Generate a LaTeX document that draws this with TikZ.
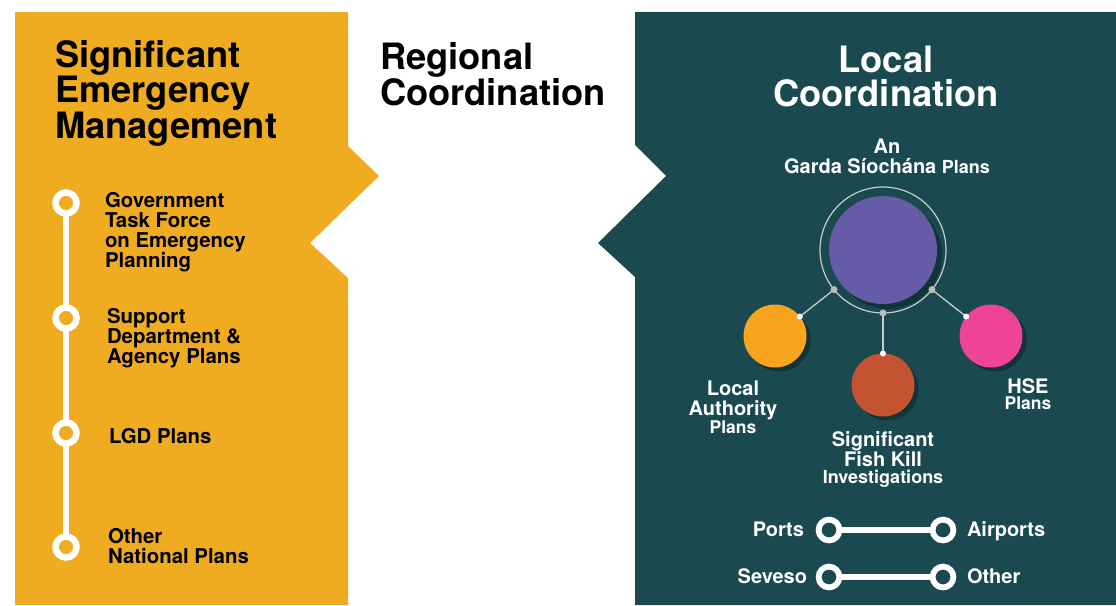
\documentclass[tikz,border=0pt]{standalone}
\usepackage{fontspec}
\setmainfont{TeX Gyre Heros}
\usetikzlibrary{shadows}

\definecolor{panelorange}{HTML}{F0AC20}
\definecolor{panelteal}{HTML}{1A4A50}
\definecolor{gpurple}{HTML}{665BA7}
\definecolor{corange}{HTML}{F7A51E}
\definecolor{cred}{HTML}{C45431}
\definecolor{cpink}{HTML}{EE4396}
\definecolor{ringgray}{HTML}{C8CCCC}
\definecolor{dotgray}{HTML}{B8BCBC}

\begin{document}
\begin{tikzpicture}[x=1pt,y=-1pt,
  every node/.style={inner sep=0pt, outer sep=0pt},
  bigtitle/.style={font=\bfseries\fontsize{36.3}{33.5}\selectfont, align=left, anchor=base west},
  lbl/.style={font=\bfseries\fontsize{20.4}{20}\selectfont, align=left, anchor=base west},
  wlbl/.style={font=\bfseries\fontsize{20}{20}\selectfont, text=white, align=center, anchor=base},
  tlring/.style={circle, draw=white, line width=6.5pt, fill=panelorange, minimum size=21pt},
  tlline/.style={draw=white, line width=6.5pt},
  brring/.style={circle, draw=white, line width=5.8pt, fill=panelteal, minimum size=20.8pt},
  bar/.style={draw=white, line width=6.5pt},
  plancircle/.style={circle, minimum size=63pt, drop shadow={shadow xshift=4pt, shadow yshift=-4pt, opacity=0.3, fill=black}},
  conn/.style={draw=ringgray, line width=1.3pt},
  gdot/.style={circle, fill=dotgray, minimum size=7pt},
  wdot/.style={circle, fill=white, minimum size=6pt}
]
\useasboundingbox (0,0) rectangle (1116,605);
\fill[white] (0,0) rectangle (1116,605);

% panels
\fill[panelorange] (15,12) -- (348,12) -- (348,146) -- (379,176) -- (310,243) -- (348,278) -- (348,605) -- (15,605) -- cycle;
\fill[panelteal] (635,12) -- (1116,12) -- (1116,605) -- (635,605) -- (635,277) -- (598,243) -- (666,176) -- (635,145) -- cycle;

% titles (anchor = baseline of last line)
\node[bigtitle] (sem) at (55,138) {Significant\\Emergency\\Management};
\node[bigtitle] (reg) at (380,105) {Regional\\Coordination};
\node[bigtitle, text=white, align=center, anchor=base] (loc) at (886,106) {Local\\Coordination};

% national timeline
\node[tlring] (t1) at (66,203) {};
\node[tlring] (t2) at (66,318) {};
\node[tlring] (t3) at (66,433) {};
\node[tlring] (t4) at (66,547) {};
\draw[tlline] (t1) -- (t2);
\draw[tlline] (t2) -- (t3);
\draw[tlline] (t3) -- (t4);

\node[lbl] (g1) at (105,267) {Government\\Task Force\\on Emergency\\Planning};
\node[lbl] (g2) at (107,363) {Support\\Department \&\\Agency Plans};
\node[lbl] (g3) at (109,443) {LGD Plans};
\node[lbl] (g4) at (108,563) {Other\\National Plans};

% local coordination
\node[wlbl] (gardatxt) at (887,173) {An\\Garda Síochána {\fontsize{18}{18}\selectfont Plans}};
\node[circle, draw=ringgray, line width=1.2pt, minimum size=126pt] (ring) at (883,250) {};
\node[circle, fill=gpurple, minimum size=108pt, drop shadow={shadow xshift=5pt, shadow yshift=-5pt, opacity=0.3, fill=black}] (garda) at (883,250) {};

\node[plancircle, fill=corange] (la) at (775,336) {};
\node[plancircle, fill=cred] (fk) at (883,385) {};
\node[plancircle, fill=cpink] (hse) at (991,336) {};

\draw[conn] (ring.219) -- (la.38);
\draw[conn] (ring.270) -- (fk.90);
\draw[conn] (ring.321) -- (hse.142);
\node[gdot] at (ring.219) {};
\node[gdot] at (ring.270) {};
\node[gdot] at (ring.321) {};
\node[wdot] at (la.38) {};
\node[wdot] at (fk.90) {};
\node[wdot] at (hse.142) {};

\node[wlbl] (latxt) at (733,433) {Local\\Authority\\[-2pt]{\fontsize{17.5}{18}\selectfont Plans}};
\node[wlbl] (fktxt) at (883,483) {Significant\\Fish Kill\\[-3pt]{\fontsize{18}{18}\selectfont Investigations}};
\node[wlbl] (hsetxt) at (1028,409) {HSE\\[-4pt]{\fontsize{17.5}{18}\selectfont Plans}};

% ports / seveso
\node[brring] (ports) at (829,530) {};
\node[brring] (airports) at (943,530) {};
\draw[bar] (ports) -- (airports);
\node[brring] (seveso) at (829,577) {};
\node[brring] (other) at (943,577) {};
\draw[bar] (seveso) -- (other);

\node[wlbl, anchor=base east] (portstxt) at (804,536) {Ports};
\node[wlbl, anchor=base west] (airportstxt) at (967,536) {Airports};
\node[wlbl, anchor=base east] (sevesotxt) at (807,583) {Seveso};
\node[wlbl, anchor=base west] (othertxt) at (967,583) {Other};
\end{tikzpicture}
\end{document}
